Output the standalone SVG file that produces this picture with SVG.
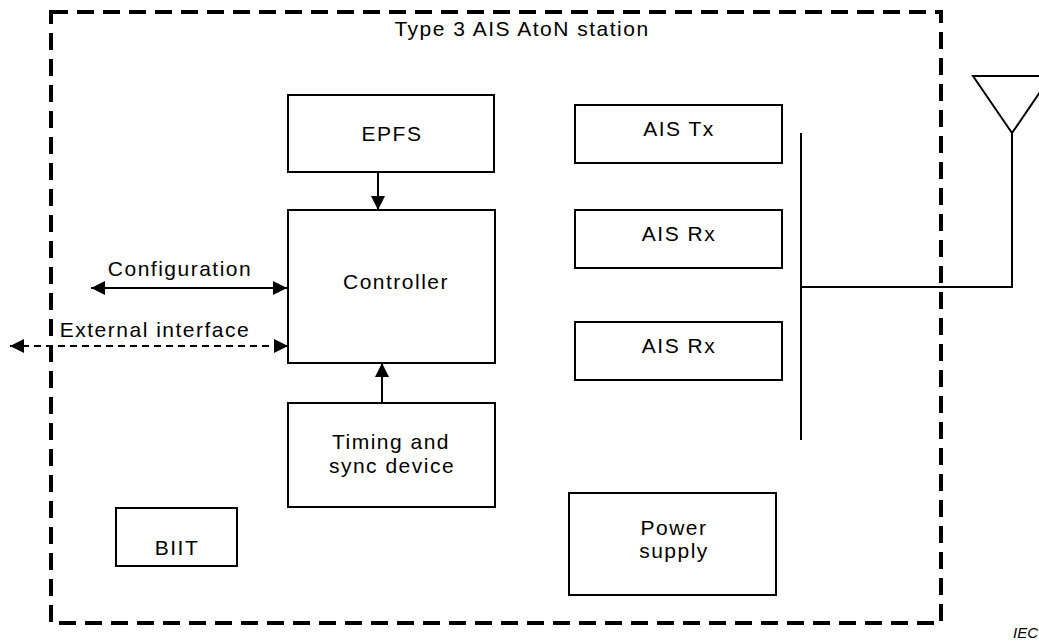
<svg xmlns="http://www.w3.org/2000/svg" width="1039" height="643" viewBox="0 0 1039 643">
<style>
text{font-family:"Liberation Sans",Arial,sans-serif;font-size:21px;letter-spacing:1.5px;fill:#000;text-anchor:middle}
.box{fill:#fff;stroke:#000;stroke-width:2}
.ln{fill:none;stroke:#000;stroke-width:2}
.dl{fill:none;stroke:#000;stroke-width:2;stroke-dasharray:7 5}
.border{fill:none;stroke:#000;stroke-width:4;stroke-dasharray:17 9}
.iec{font-size:15px;font-style:italic;letter-spacing:0;text-anchor:start}
</style>
<defs>
<marker id="ah" markerWidth="14" markerHeight="14" refX="14" refY="7" orient="auto-start-reverse" markerUnits="userSpaceOnUse">
<path d="M0,0 L14,7 L0,14 Z" fill="#000"/>
</marker>
</defs>
<rect id="station" class="border" x="51" y="12" width="890" height="611"/>
<text x="522" y="36">Type 3 AIS AtoN station</text>
<g id="epfs"><rect class="box" x="288" y="95" width="206" height="77"/><text x="392" y="141">EPFS</text></g>
<g id="controller"><rect class="box" x="288" y="210" width="207" height="153"/><text x="396" y="289">Controller</text></g>
<g id="timing"><rect class="box" x="288" y="403" width="207" height="104"/><text x="391" y="449">Timing and</text><text x="392" y="473">sync device</text></g>
<g id="biit"><rect class="box" x="116" y="508" width="121" height="58"/><text x="177" y="555">BIIT</text></g>
<g id="aistx"><rect class="box" x="575" y="105" width="207" height="58"/><text x="679" y="136">AIS Tx</text></g>
<g id="aisrx1"><rect class="box" x="575" y="210" width="207" height="58"/><text x="679" y="241">AIS Rx</text></g>
<g id="aisrx2"><rect class="box" x="575" y="322" width="207" height="58"/><text x="679" y="353">AIS Rx</text></g>
<g id="power"><rect class="box" x="569" y="493" width="207" height="102"/><text x="674" y="535">Power</text><text x="674" y="558">supply</text></g>
<g id="antenna"><path class="ln" d="M973,76 L1012,133 L1051,76 Z"/></g>
<g id="connectors">
<line class="ln" x1="378" y1="172" x2="378" y2="210" marker-end="url(#ah)"/>
<line class="ln" x1="382" y1="403" x2="382" y2="363" marker-end="url(#ah)"/>
<line class="ln" x1="91" y1="288" x2="287" y2="288" marker-start="url(#ah)" marker-end="url(#ah)"/>
<line class="dl" x1="10" y1="346" x2="288" y2="346" marker-start="url(#ah)" marker-end="url(#ah)"/>
<line class="ln" x1="801" y1="133" x2="801" y2="440"/>
<polyline class="ln" points="801,287 1012,287 1012,133"/>
</g>
<text x="180" y="276">Configuration</text>
<text x="155" y="337">External interface</text>
<text class="iec" x="1013" y="638">IEC</text>
</svg>
